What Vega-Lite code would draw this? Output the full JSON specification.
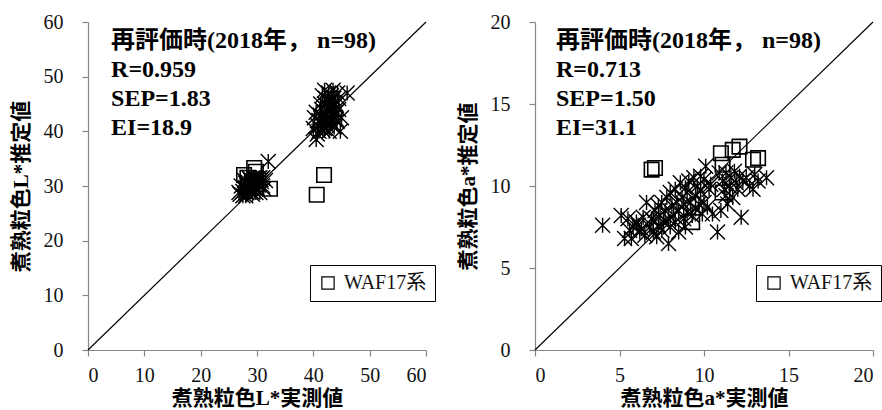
{
  "$schema": "https://vega.github.io/schema/vega-lite/v6.json",
  "autosize": {"type": "pad"},
  "padding": {"left": 10, "top": 12, "right": 0, "bottom": 0},
  "background": "white",
  "bounds": "flush",
  "spacing": 109,
  "config": {
    "view": {"stroke": null},
    "font": "Liberation Serif, Noto Sans CJK JP",
    "axis": {
      "grid": false,
      "domainColor": "#868686",
      "tickColor": "#868686",
      "domainWidth": 1.2,
      "tickWidth": 1.2,
      "tickSize": 6,
      "labelFont": "Liberation Serif",
      "labelFontSize": 20,
      "labelColor": "#111111",
      "titleFont": "Liberation Serif, Noto Sans CJK JP",
      "titleFontSize": 21,
      "titleFontWeight": "bold",
      "titleColor": "#000000"
    },
    "axisX": {"labelPadding": 9, "titlePadding": 2},
    "axisY": {"labelPadding": 19, "titlePadding": 12}
  },
  "datasets": {
    "Lstar": [
      {"actual": 27, "pred": 28.5}, {"actual": 27.5, "pred": 29}, {"actual": 28, "pred": 29.5}, {"actual": 28, "pred": 28.2},
      {"actual": 28.5, "pred": 30}, {"actual": 29, "pred": 30.5}, {"actual": 29, "pred": 29}, {"actual": 29.5, "pred": 31},
      {"actual": 30, "pred": 30.5}, {"actual": 30, "pred": 29.5}, {"actual": 30.5, "pred": 31.5}, {"actual": 31, "pred": 30},
      {"actual": 31, "pred": 31.5}, {"actual": 32, "pred": 34.5}, {"actual": 27.2, "pred": 30}, {"actual": 27.8, "pred": 31},
      {"actual": 28.3, "pred": 30.8}, {"actual": 28.8, "pred": 31.2}, {"actual": 29.2, "pred": 28.5}, {"actual": 29.8, "pred": 28.8},
      {"actual": 30.2, "pred": 31.4}, {"actual": 28.5, "pred": 29.2}, {"actual": 29.3, "pred": 30}, {"actual": 27.5, "pred": 28.2},
      {"actual": 28, "pred": 30.5}, {"actual": 29, "pred": 31}, {"actual": 30.8, "pred": 30.8}, {"actual": 31.5, "pred": 31},
      {"actual": 30.5, "pred": 28.8}, {"actual": 28.7, "pred": 29.8}, {"actual": 29.6, "pred": 29.6}, {"actual": 28.2, "pred": 28.8},
      {"actual": 27.9, "pred": 29.7}, {"actual": 29.9, "pred": 31.3}, {"actual": 30.3, "pred": 30.2}, {"actual": 31.2, "pred": 29.5},
      {"actual": 26.8, "pred": 28.8}, {"actual": 28.6, "pred": 31.5}, {"actual": 29.4, "pred": 31.5}, {"actual": 30.7, "pred": 31.2},
      {"actual": 40, "pred": 40.5}, {"actual": 40.5, "pred": 38.5}, {"actual": 40.8, "pred": 41}, {"actual": 41, "pred": 42},
      {"actual": 41, "pred": 40}, {"actual": 41.2, "pred": 43}, {"actual": 41.5, "pred": 41.5}, {"actual": 41.5, "pred": 44},
      {"actual": 41.8, "pred": 42.5}, {"actual": 42, "pred": 40.5}, {"actual": 42, "pred": 45}, {"actual": 42, "pred": 43.5},
      {"actual": 42.2, "pred": 46}, {"actual": 42.3, "pred": 41.2}, {"actual": 42.5, "pred": 44.2}, {"actual": 42.5, "pred": 42},
      {"actual": 42.7, "pred": 47}, {"actual": 42.8, "pred": 40}, {"actual": 43, "pred": 45.5}, {"actual": 43, "pred": 43},
      {"actual": 43, "pred": 41.5}, {"actual": 43.2, "pred": 46.5}, {"actual": 43.3, "pred": 44.5}, {"actual": 43.5, "pred": 42.5},
      {"actual": 43.5, "pred": 47.5}, {"actual": 43.7, "pred": 40.8}, {"actual": 44, "pred": 45}, {"actual": 44, "pred": 43.5},
      {"actual": 44.2, "pred": 41.8}, {"actual": 44.5, "pred": 44}, {"actual": 44.8, "pred": 40}, {"actual": 44.5, "pred": 46},
      {"actual": 45, "pred": 42.5}, {"actual": 46, "pred": 47}, {"actual": 40.2, "pred": 42.5}, {"actual": 40.5, "pred": 43.5},
      {"actual": 40.7, "pred": 39.5}, {"actual": 41.3, "pred": 45}, {"actual": 41.7, "pred": 40.2}, {"actual": 42.1, "pred": 41.8},
      {"actual": 42.4, "pred": 43}, {"actual": 42.6, "pred": 45.5}, {"actual": 42.9, "pred": 42.6}, {"actual": 43.1, "pred": 44},
      {"actual": 43.4, "pred": 41}, {"actual": 43.6, "pred": 46}, {"actual": 43.8, "pred": 43.2}, {"actual": 44.1, "pred": 42.2},
      {"actual": 44.3, "pred": 47}, {"actual": 42, "pred": 47.5}, {"actual": 41.6, "pred": 46.5}, {"actual": 43.9, "pred": 44.8}
    ],
    "Lwaf": [
      {"actual": 27.7, "pred": 32}, {"actual": 28.3, "pred": 31.5}, {"actual": 29.5, "pred": 33.3}, {"actual": 29.8, "pred": 32.6},
      {"actual": 32.3, "pred": 29.5}, {"actual": 40.6, "pred": 28.4}, {"actual": 41.9, "pred": 32}
    ],
    "astar": [
      {"actual": 4.0, "pred": 7.6}, {"actual": 5.1, "pred": 8.2}, {"actual": 5.3, "pred": 6.8}, {"actual": 5.5, "pred": 8.0},
      {"actual": 5.7, "pred": 6.8}, {"actual": 5.8, "pred": 7.5}, {"actual": 6.0, "pred": 7.8}, {"actual": 6.2, "pred": 7.2},
      {"actual": 6.3, "pred": 7.4}, {"actual": 6.5, "pred": 7.0}, {"actual": 6.6, "pred": 9.0}, {"actual": 6.8, "pred": 7.5},
      {"actual": 6.9, "pred": 8.0}, {"actual": 7.0, "pred": 7.2}, {"actual": 7.1, "pred": 8.5}, {"actual": 7.2, "pred": 6.9},
      {"actual": 7.3, "pred": 7.6}, {"actual": 7.3, "pred": 8.8}, {"actual": 7.4, "pred": 8.2}, {"actual": 7.5, "pred": 7.3},
      {"actual": 7.5, "pred": 9.0}, {"actual": 7.6, "pred": 7.8}, {"actual": 7.7, "pred": 8.5}, {"actual": 7.8, "pred": 9.3},
      {"actual": 7.9, "pred": 6.5}, {"actual": 7.9, "pred": 8.0}, {"actual": 8.0, "pred": 7.5}, {"actual": 8.0, "pred": 9.6},
      {"actual": 8.1, "pred": 8.8}, {"actual": 8.2, "pred": 8.2}, {"actual": 8.3, "pred": 7.8}, {"actual": 8.3, "pred": 9.8},
      {"actual": 8.4, "pred": 9.0}, {"actual": 8.5, "pred": 8.5}, {"actual": 8.5, "pred": 7.2}, {"actual": 8.6, "pred": 10.2},
      {"actual": 8.7, "pred": 9.3}, {"actual": 8.8, "pred": 8.0}, {"actual": 8.8, "pred": 8.9}, {"actual": 8.9, "pred": 7.5},
      {"actual": 9.0, "pred": 9.6}, {"actual": 9.0, "pred": 8.4}, {"actual": 9.1, "pred": 10.3}, {"actual": 9.2, "pred": 9.0},
      {"actual": 9.3, "pred": 8.2}, {"actual": 9.4, "pred": 10.5}, {"actual": 9.5, "pred": 9.4}, {"actual": 9.5, "pred": 8.6},
      {"actual": 9.6, "pred": 10.0}, {"actual": 9.7, "pred": 8.9}, {"actual": 9.8, "pred": 9.7}, {"actual": 9.9, "pred": 8.3},
      {"actual": 10.0, "pred": 10.4}, {"actual": 10.0, "pred": 9.0}, {"actual": 10.1, "pred": 11.2}, {"actual": 10.2, "pred": 8.7},
      {"actual": 10.3, "pred": 9.8}, {"actual": 10.5, "pred": 8.3}, {"actual": 10.8, "pred": 7.2}, {"actual": 10.9, "pred": 10.8},
      {"actual": 11.0, "pred": 8.5}, {"actual": 11.1, "pred": 10.3}, {"actual": 11.2, "pred": 9.8}, {"actual": 11.3, "pred": 10.8},
      {"actual": 11.4, "pred": 8.9}, {"actual": 11.5, "pred": 10.0}, {"actual": 11.6, "pred": 10.5}, {"actual": 11.7, "pred": 9.3},
      {"actual": 11.8, "pred": 10.9}, {"actual": 11.9, "pred": 10.2}, {"actual": 12.0, "pred": 9.8}, {"actual": 12.1, "pred": 10.6},
      {"actual": 12.2, "pred": 8.1}, {"actual": 12.3, "pred": 10.3}, {"actual": 12.5, "pred": 10.5}, {"actual": 12.7, "pred": 10.0},
      {"actual": 12.9, "pred": 9.8}, {"actual": 13.0, "pred": 10.7}, {"actual": 13.2, "pred": 10.3}, {"actual": 13.7, "pred": 10.5},
      {"actual": 6.1, "pred": 7.6}, {"actual": 7.0, "pred": 7.9}, {"actual": 8.9, "pred": 9.9}, {"actual": 9.8, "pred": 10.6},
      {"actual": 10.4, "pred": 10.1}, {"actual": 5.6, "pred": 7.3}, {"actual": 6.4, "pred": 8.1}, {"actual": 11.3, "pred": 9.4}
    ],
    "awaf": [
      {"actual": 6.9, "pred": 11.0}, {"actual": 7.1, "pred": 11.1}, {"actual": 11.0, "pred": 12.0}, {"actual": 11.1, "pred": 11.3},
      {"actual": 11.7, "pred": 12.2}, {"actual": 12.1, "pred": 12.4}, {"actual": 12.9, "pred": 11.6}, {"actual": 13.2, "pred": 11.7},
      {"actual": 11.1, "pred": 9.6}, {"actual": 9.3, "pred": 7.8}
    ],
    "Lline": [{"actual": 0, "pred": 0}, {"actual": 60, "pred": 60}],
    "aline": [{"actual": 0, "pred": 0}, {"actual": 20, "pred": 20}]
  },
  "resolve": {"scale": {"shape": "independent"}, "legend": {"shape": "independent"}},
  "hconcat": [
    {
      "width": 338,
      "height": 328,
      "layer": [
        {
          "data": {"name": "Lline"},
          "mark": {"type": "line", "color": "black", "strokeWidth": 1.2},
          "encoding": {
            "x": {"field": "actual", "type": "quantitative", "scale": {"domain": [0, 60], "nice": false}, "axis": {"values": [0, 10, 20, 30, 40, 50, 60], "title": "煮熟粒色L*実測値"}},
            "y": {"field": "pred", "type": "quantitative", "scale": {"domain": [0, 60], "nice": false}, "axis": {"values": [0, 10, 20, 30, 40, 50, 60], "title": "煮熟粒色L*推定値"}}
          }
        },
        {
          "data": {"name": "Lstar"},
          "mark": {"type": "point", "shape": "M-1,-1L1,1M-1,1L1,-1M0,-1L0,1", "size": 225, "filled": false, "color": "black", "strokeWidth": 1.4, "opacity": 1},
          "encoding": {
            "x": {"field": "actual", "type": "quantitative"},
            "y": {"field": "pred", "type": "quantitative"}
          }
        },
        {
          "data": {"name": "Lwaf"},
          "mark": {"type": "point", "size": 210, "filled": false, "color": "black", "strokeWidth": 1.6, "opacity": 1},
          "encoding": {
            "x": {"field": "actual", "type": "quantitative"},
            "y": {"field": "pred", "type": "quantitative"},
            "shape": {"datum": "WAF17系", "scale": {"range": ["square"]}, "legend": {"title": null, "orient": "none", "legendX": 222, "legendY": 243, "strokeColor": "black", "fillColor": "white", "padding": 8, "symbolSize": 150, "symbolStrokeWidth": 1.2, "symbolStrokeColor": "black", "symbolFillColor": "transparent", "labelFont": "Liberation Serif, Noto Sans CJK JP", "labelFontSize": 20, "labelColor": "#111111", "labelOffset": 6}}
          }
        },
        {
          "data": {"values": [{"label": "再評価時(2018年， n=98)\nR=0.959\nSEP=1.83\nEI=18.9"}]},
          "mark": {"type": "text", "align": "left", "baseline": "top", "lineBreak": "\n", "lineHeight": 29, "fontSize": 24, "fontWeight": "bold", "font": "Liberation Serif, Noto Sans CJK JP", "color": "black"},
          "encoding": {
            "x": {"datum": 4.1},
            "y": {"datum": 58.8},
            "text": {"field": "label"}
          }
        }
      ]
    },
    {
      "width": 338,
      "height": 328,
      "layer": [
        {
          "data": {"name": "aline"},
          "mark": {"type": "line", "color": "black", "strokeWidth": 1.2},
          "encoding": {
            "x": {"field": "actual", "type": "quantitative", "scale": {"domain": [0, 20], "nice": false}, "axis": {"values": [0, 5, 10, 15, 20], "title": "煮熟粒色a*実測値"}},
            "y": {"field": "pred", "type": "quantitative", "scale": {"domain": [0, 20], "nice": false}, "axis": {"values": [0, 5, 10, 15, 20], "title": "煮熟粒色a*推定値"}}
          }
        },
        {
          "data": {"name": "astar"},
          "mark": {"type": "point", "shape": "M-1,-1L1,1M-1,1L1,-1M0,-1L0,1", "size": 225, "filled": false, "color": "black", "strokeWidth": 1.4, "opacity": 1},
          "encoding": {
            "x": {"field": "actual", "type": "quantitative"},
            "y": {"field": "pred", "type": "quantitative"}
          }
        },
        {
          "data": {"name": "awaf"},
          "mark": {"type": "point", "size": 210, "filled": false, "color": "black", "strokeWidth": 1.6, "opacity": 1},
          "encoding": {
            "x": {"field": "actual", "type": "quantitative"},
            "y": {"field": "pred", "type": "quantitative"},
            "shape": {"datum": "WAF17系", "scale": {"range": ["square"]}, "legend": {"title": null, "orient": "none", "legendX": 221, "legendY": 243, "strokeColor": "black", "fillColor": "white", "padding": 8, "symbolSize": 150, "symbolStrokeWidth": 1.2, "symbolStrokeColor": "black", "symbolFillColor": "transparent", "labelFont": "Liberation Serif, Noto Sans CJK JP", "labelFontSize": 20, "labelColor": "#111111", "labelOffset": 6}}
          }
        },
        {
          "data": {"values": [{"label": "再評価時(2018年， n=98)\nR=0.713\nSEP=1.50\nEI=31.1"}]},
          "mark": {"type": "text", "align": "left", "baseline": "top", "lineBreak": "\n", "lineHeight": 29, "fontSize": 24, "fontWeight": "bold", "font": "Liberation Serif, Noto Sans CJK JP", "color": "black"},
          "encoding": {
            "x": {"datum": 1.24},
            "y": {"datum": 19.6},
            "text": {"field": "label"}
          }
        }
      ]
    }
  ]
}
